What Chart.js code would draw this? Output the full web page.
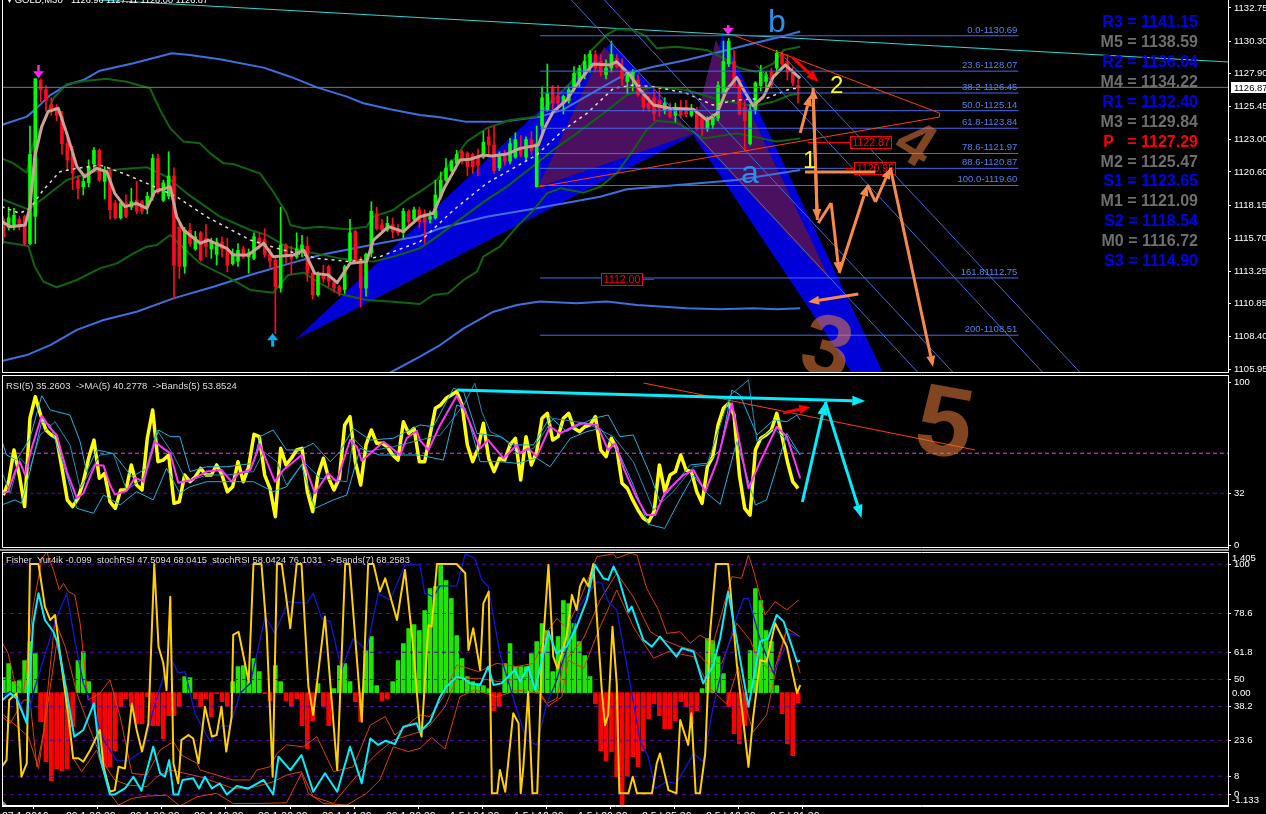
<!DOCTYPE html>
<html>
<head>
<meta charset="utf-8">
<title>GOLD,M30</title>
<script src="https://cdn.jsdelivr.net/npm/chart.js@4"></script>
<style>
  html, body { margin: 0; background: #000; overflow: hidden; }
  canvas { position: absolute; left: 0; }
  #sep { position: absolute; left: 0; width: 1229px; top: 549px; height: 2px; background: #999; }
</style>
</head>
<body>
<canvas id="mainChart" width="1266" height="373" style="top:0"></canvas>
<canvas id="rsiChart" width="1266" height="174" style="top:375px"></canvas>
<div id="sep"></div>
<canvas id="fisherChart" width="1266" height="262" style="top:552px"></canvas>
<script>
// candles, one value per bar (150 bars)
const opens = [
  1117.1,1116.5,1116.5,1117.1,1117.3,1115.3,1117.3,1127.4,1126.7,1125.6,
  1125.4,1124.7,1122.7,1122.0,1120.0,1119.5,1119.8,1121.2,1122.2,1119.9,
  1120.6,1118.3,1117.2,1118.3,1118.0,1118.5,1118.4,1118.0,1118.8,1121.6,
  1118.5,1118.8,1120.3,1116.5,1113.6,1116.3,1114.9,1116.1,1115.7,1114.9,
  1114.5,1115.4,1114.9,1113.8,1114.0,1114.9,1114.3,1114.2,1115.7,1115.6,
  1114.5,1114.1,1112.0,1115.2,1114.5,1114.3,1114.6,1115.1,1113.1,1111.5,
  1113.0,1113.6,1112.4,1112.1,1111.9,1114.0,1116.2,1113.8,1112.0,1114.6,
  1117.5,1116.7,1116.3,1116.7,1116.4,1116.1,1117.7,1117.1,1117.8,1117.5,
  1117.1,1117.2,1118.8,1120.0,1120.7,1121.2,1122.1,1122.0,1121.9,1121.7,
  1121.7,1123.2,1122.6,1120.9,1121.9,1121.4,1121.7,1122.3,1121.7,1123.0,
  1119.5,1124.0,1125.2,1126.9,1126.2,1125.7,1125.9,1126.8,1127.3,1127.8,
  1128.4,1129.3,1128.8,1127.8,1128.3,1129.0,1128.4,1127.3,1127.5,1127.4,
  1126.3,1125.7,1126.1,1125.9,1125.2,1125.3,1124.8,1125.4,1125.4,1124.8,
  1125.2,1124.6,1123.8,1124.1,1124.6,1126.4,1128.6,1128.8,1127.4,1125.4,
  1122.7,1125.2,1127.0,1127.3,1128.0,1128.3,1129.3,1128.8,1128.0,1127.0
];
const highs = [
  1117.3,1118.0,1117.9,1117.3,1117.4,1124.0,1127.5,1127.5,1127.0,1126.1,
  1125.6,1125.1,1123.5,1122.5,1120.3,1120.3,1121.5,1122.4,1122.3,1121.0,
  1120.9,1118.5,1118.5,1118.9,1119.4,1119.9,1118.5,1119.1,1121.9,1121.9,
  1120.0,1122.1,1120.9,1116.8,1116.5,1116.8,1116.2,1116.2,1116.7,1115.7,
  1115.7,1115.8,1115.7,1114.9,1115.3,1115.1,1114.9,1116.1,1116.1,1116.4,
  1114.9,1114.2,1118.0,1115.3,1115.1,1116.1,1115.9,1115.8,1113.3,1113.2,
  1113.7,1113.7,1112.7,1112.2,1113.7,1117.1,1116.3,1114.3,1114.6,1118.4,
  1118.0,1117.1,1117.3,1117.2,1116.7,1117.9,1117.8,1118.0,1118.0,1117.8,
  1117.7,1120.0,1120.6,1121.6,1121.5,1122.2,1122.2,1122.1,1122.0,1122.3,
  1123.6,1123.8,1124.0,1122.1,1122.2,1123.1,1123.5,1123.3,1123.2,1123.6,
  1124.0,1126.9,1128.6,1127.0,1127.0,1126.3,1126.9,1128.4,1128.5,1129.3,
  1129.6,1129.6,1129.3,1128.9,1130.3,1129.3,1129.0,1128.0,1128.2,1127.8,
  1126.7,1126.2,1126.7,1126.9,1126.1,1125.7,1125.7,1125.9,1125.9,1125.6,
  1125.4,1124.8,1124.7,1124.9,1127.3,1130.3,1130.5,1129.6,1127.5,1125.9,
  1125.6,1127.3,1128.5,1128.0,1128.3,1129.6,1129.5,1129.3,1128.4,1127.5
];
const lows = [
  1115.3,1116.3,1116.3,1116.3,1115.2,1115.2,1115.3,1125.8,1125.1,1124.8,
  1124.4,1121.9,1120.7,1119.3,1118.6,1118.9,1119.5,1120.7,1119.9,1118.6,
  1117.1,1117.1,1117.1,1117.2,1117.8,1117.5,1117.5,1117.5,1118.5,1119.0,
  1118.4,1118.6,1111.2,1112.7,1113.1,1115.1,1114.8,1114.0,1114.3,1114.2,
  1113.7,1114.3,1113.2,1113.7,1113.6,1114.2,1113.1,1114.1,1114.9,1114.3,
  1113.5,1108.6,1111.7,1113.8,1113.0,1114.2,1114.3,1112.5,1111.2,1111.4,
  1112.4,1112.1,1111.7,1111.4,1111.6,1113.8,1113.8,1110.6,1111.4,1114.3,
  1116.3,1116.1,1116.2,1115.7,1115.9,1115.7,1116.5,1116.8,1116.5,1115.3,
  1116.8,1117.1,1118.6,1119.9,1120.6,1121.1,1121.2,1120.3,1120.5,1120.3,
  1121.6,1121.7,1120.5,1120.7,1121.1,1121.2,1121.6,1121.7,1121.4,1121.9,
  1119.5,1123.5,1125.1,1125.2,1125.1,1124.9,1125.7,1126.6,1126.9,1127.5,
  1128.0,1128.0,1127.7,1127.5,1128.0,1128.3,1127.0,1126.4,1126.6,1126.2,
  1125.1,1125.1,1124.4,1124.7,1124.9,1124.6,1124.3,1124.6,1124.7,1124.7,
  1123.7,1123.3,1123.6,1123.8,1124.4,1126.1,1128.4,1126.9,1124.8,1122.2,
  1122.6,1124.9,1126.6,1126.4,1126.8,1127.8,1128.3,1127.4,1127.0,1125.7
];
const closes = [
  1115.8,1117.2,1117.4,1116.5,1115.3,1121.9,1127.5,1126.7,1125.9,1125.2,
  1124.8,1122.7,1121.5,1120.5,1119.4,1119.9,1121.0,1122.2,1120.0,1120.7,
  1117.8,1117.2,1118.3,1117.3,1118.4,1117.7,1117.7,1118.8,1121.6,1119.1,
  1119.8,1120.3,1113.7,1113.6,1116.3,1115.3,1115.8,1114.1,1115.1,1115.4,
  1115.4,1114.9,1113.7,1114.6,1114.8,1114.3,1114.6,1115.8,1115.3,1114.5,
  1114.0,1112.1,1115.2,1114.3,1114.2,1114.9,1115.2,1113.1,1111.5,1113.0,
  1112.7,1112.5,1112.0,1111.7,1113.6,1116.1,1114.0,1112.0,1114.5,1117.7,
  1116.4,1116.3,1116.8,1116.2,1116.1,1117.7,1116.9,1117.8,1116.9,1116.9,
  1117.3,1118.9,1120.0,1120.9,1121.4,1121.9,1121.5,1121.0,1121.0,1121.1,
  1122.8,1122.6,1120.7,1121.9,1121.4,1122.7,1123.0,1121.9,1123.0,1122.2,
  1122.7,1126.1,1126.4,1125.7,1125.7,1126.2,1126.7,1127.9,1128.3,1128.8,
  1129.3,1128.3,1128.0,1128.3,1129.3,1128.4,1127.5,1127.8,1128.0,1126.3,
  1125.4,1125.3,1124.9,1125.3,1125.7,1124.7,1125.4,1124.8,1124.9,1125.3,
  1123.8,1123.8,1124.4,1124.7,1127.0,1128.8,1130.3,1127.0,1124.9,1124.4,
  1125.2,1127.2,1128.0,1127.8,1127.0,1129.4,1128.6,1128.0,1127.2,1126.87
];

// price overlays as [bar, price]
const blueUpper = [[-0.3,1124.08],[4.4,1124.7],[5.9,1125.2],[8.8,1126.3],[11.9,1127.04],[15,1127.41],[18.1,1128.1],[24.4,1128.65],[31.6,1129.4],[35,1129.27],[40.6,1128.95],[48.8,1128.33],[53.8,1127.66],[58.8,1126.87],[64.4,1126.18],[67.5,1125.69],[72.5,1125.24],[78.1,1124.82],[81.9,1124.65],[86.6,1124.33],[93.8,1124.33],[100.6,1124.7],[104.9,1125.2],[111.9,1126.8],[116.9,1127.9],[121.9,1128.4],[128.1,1128.9],[134.4,1129.5],[139.4,1130.0],[145.6,1130.6],[149.4,1131.0]];
const blueLower = [[-0.3,1106.6],[4.4,1107.04],[8.8,1107.78],[13.8,1108.9],[18.8,1109.64],[25,1110.25],[31.9,1111.24],[39.4,1112.1],[46.3,1112.97],[53.8,1113.83],[59.4,1114.45],[65.6,1114.94],[70.6,1115.32],[78.1,1115.86],[81.9,1116.43],[90.6,1117.29],[100,1117.91],[111.9,1118.77],[116.9,1119.32],[128.1,1119.69],[137.5,1120.01],[149.4,1120.75]];
const blueLower2 = [[70,1105.2],[72.5,1105.73],[78.1,1106.92],[81.9,1107.78],[86.3,1109.02],[91.9,1110.25],[96.3,1110.75],[100.6,1111.0],[107.5,1110.87],[113.1,1111.0],[118.8,1110.75],[128.1,1110.5],[134.4,1110.43],[140.6,1110.5],[145,1110.43],[149.4,1110.5]];
const greenUpper = [[-0.3,1121.61],[1.9,1121.24],[4.4,1120.55],[5,1121.73],[5.6,1122.72],[7.5,1124.2],[9.4,1126.06],[11.9,1127.12],[15.6,1127.36],[19.4,1127.51],[23.1,1127.29],[27.5,1126.8],[29.4,1125.19],[31.3,1123.83],[33.8,1122.85],[36.9,1122.72],[38.8,1121.98],[41.3,1121.24],[43.1,1121.19],[48.1,1120.5],[50.6,1119.14],[53.1,1117.54],[53.8,1116.67],[56.3,1116.43],[59.4,1116.55],[64.4,1116.35],[68.1,1116.55],[69.4,1117.29],[73.1,1117.78],[75.6,1118.53],[78.1,1119.14],[81.3,1120.01],[84.4,1121.49],[86.9,1122.85],[90.6,1123.83],[95,1124.45],[100,1124.7],[102.5,1125.69],[106.3,1127.17],[110,1129.51],[113.1,1130.75],[115,1131.17],[118.1,1131.12],[120.6,1130.62],[122.5,1129.76],[126.2,1129.88],[131.9,1129.64],[135.6,1128.9],[138.1,1128.28],[141.3,1128.03],[144.4,1128.65],[146.3,1129.64],[149.4,1129.88]];
const greenMid = [[-0.3,1118.6],[4.7,1117.83],[7.5,1118.65],[11.9,1120.01],[16.9,1120.62],[21.9,1120.8],[26.9,1120.95],[30.6,1120.25],[34.4,1119.02],[40.6,1117.29],[46.3,1116.3],[49.4,1115.93],[53.1,1115.07],[56.9,1114.7],[63.1,1114.2],[69.4,1113.96],[73.1,1114.33],[78.1,1114.95],[81.3,1115.81],[86.3,1117.29],[90.6,1118.53],[94.4,1119.51],[100,1121.24],[103.1,1122.23],[107.5,1123.46],[112.5,1124.94],[116.9,1126.3],[121.9,1126.92],[128.1,1126.67],[134.4,1125.93],[140.6,1125.49],[144.4,1125.81],[147.5,1126.3],[149.4,1126.43]];
const greenLower = [[-0.3,1115.44],[4.7,1115.12],[5.9,1113.59],[7.5,1112.48],[10,1112.06],[13.8,1112.6],[18.1,1113.46],[21.3,1113.83],[24.4,1114.57],[26.9,1115.07],[28.8,1115.19],[31.3,1115.93],[33.8,1114.95],[36.9,1113.83],[41.9,1112.85],[46.3,1111.86],[50.6,1111.66],[53.4,1112.97],[56.3,1113.14],[59.4,1112.35],[63.1,1111.56],[68.1,1111.12],[73.1,1110.99],[78.1,1110.82],[80.6,1111.49],[83.4,1111.61],[86.3,1112.6],[88.8,1113.22],[90,1114.33],[93.1,1115.07],[96.3,1116.55],[99.4,1117.78],[101.9,1119.02],[104.4,1119.39],[108.8,1119.07],[111.9,1119.51],[115,1120.5],[118.1,1122.23],[120.6,1123.71],[122.5,1124.4],[126.2,1124.25],[131.3,1123.09],[137.5,1123.46],[140.6,1123.22],[145,1122.85],[149.4,1123.09]];
const smoothLine = [[-0.3,1116.92],[1.3,1116.55],[4.1,1116.67],[5,1118.03],[5.9,1121.73],[7.2,1123.96],[8.4,1125.07],[10.3,1125.32],[11.9,1123.46],[13.8,1121.0],[15.3,1120.25],[17.5,1120.87],[19.4,1120.62],[20.9,1119.02],[22.8,1118.03],[25,1118.28],[26.9,1117.91],[28.4,1119.14],[31.3,1119.51],[32.5,1117.29],[33.8,1116.3],[36.9,1115.32],[38.4,1115.56],[41.9,1114.95],[43.1,1114.45],[45.9,1114.45],[48.8,1115.32],[50.6,1114.33],[54.4,1114.45],[56.3,1114.82],[58.4,1113.09],[60.9,1112.97],[62.6,1112.4],[65,1113.83],[68.1,1113.96],[69.4,1115.56],[72.2,1116.55],[75,1116.18],[78.1,1117.29],[80.6,1117.54],[82.8,1119.51],[85.6,1121.49],[87.5,1121.54],[90,1121.86],[91.6,1121.78],[94.4,1121.93],[96.9,1122.35],[100.3,1122.6],[101.6,1123.96],[103.1,1125.07],[105.6,1125.93],[108.1,1127.41],[110.6,1128.6],[113.8,1128.53],[115,1128.77],[117.5,1127.78],[119.4,1126.67],[121.9,1125.56],[125,1125.32],[129.4,1125.24],[131.9,1124.45],[133.8,1124.94],[135.6,1126.67],[137.5,1127.61],[138.8,1126.67],[140.6,1125.49],[142.5,1126.18],[144.4,1127.66],[146.6,1128.53],[149.4,1127.54]];
const dashedLine = [[-0.3,1118.03],[3.1,1117.54],[5,1117.91],[7.5,1119.27],[10.6,1120.62],[13.8,1120.87],[18.1,1121.12],[22.5,1120.5],[26.9,1119.76],[32.5,1118.77],[38.1,1117.29],[46.3,1115.56],[51.3,1114.95],[58.8,1114.2],[65,1113.96],[70.6,1114.33],[78.1,1115.44],[84.4,1117.78],[90.6,1119.76],[100,1121.86],[105,1123.71],[109.4,1124.94],[114.4,1126.8],[118.1,1127.04],[121.9,1126.92],[128.1,1126.43],[133,1125.56],[137.5,1125.93],[143.1,1126.06],[146.9,1126.67],[149.4,1126.87]];

// trend lines, channels, patterns
const cyanTrend = [[18,1133.34],[229.6,1128.75]];
const channelA = [[146.4,1129.12],[201.8,1105.78]];
const channelB = [[141.2,1128.53],[194.8,1105.78]];
const channelC = [[112.7,1133.34],[178,1105.78]];
const channelD = [[106.5,1133.34],[171.4,1105.78]];
const triangleLine = [[100.3,1119.49],[175.5,1124.67],[175.5,1124.97],[136.8,1130.75]];
const bluePatterns = [
  [[54.7,1108.15],[114.1,1130.23],[129.3,1123.34]],
  [[134.8,1130.75],[129.3,1123.34],[179.4,1093.71]]
];
const purplePatterns = [
  [[100.3,1119.49],[112.6,1129.86],[129.3,1123.41]],
  [[133.6,1130.38],[129.3,1123.49],[155,1112.6]]
];
const fibRange = [100.6, 190.3];
const fibPrices = [1130.69,1128.07,1126.45,1125.14,1123.84,1121.97,1120.87,1119.60,1112.75,1108.51];
const fibLabels = ['0.0-1130.69','23.6-1128.07','38.2-1126.45','50.0-1125.14','61.8-1123.84','78.6-1121.97','88.6-1120.87','100.0-1119.60','161.81112.75','200-1108.51'];
const lastPrice = 1126.87;
const priceTicks = [1132.75,1130.30,1127.90,1125.45,1123.00,1120.60,1118.15,1115.70,1113.25,1110.85,1108.40,1105.95];
const pivotNames = ['R3 = 1141.15','M5 = 1138.59','R2 = 1136.04','M4 = 1134.22','R1 = 1132.40','M3 = 1129.84','P   = 1127.29','M2 = 1125.47','S1 = 1123.65','M1 = 1121.09','S2 = 1118.54','M0 = 1116.72','S3 = 1114.90'];
const boxTexts = ['1112.00','1122.87','1120.95'];
const boxBars = [116,162.7,163.5];
const boxPrices = [1112.70,1122.82,1120.86];
const boxLeaders = [122,150.8,157.8];

// arrows as [bar, price, bar, price]
const orangeArrows = [
  [149.4,1123.49,151.3,1126.3],
  [152.6,1117.04,151.8,1126.82],
  [151.8,1126.82,152.6,1117.04],
  [155.2,1118.3,156.7,1113.12],
  [156.7,1113.12,162,1119.64],
  [163.5,1118.38,166.3,1120.9],
  [166.3,1120.9,174.3,1106.16],
  [160.3,1111.56,150.9,1110.97]
];
const orangeSegments = [
  [152.8,1116.82,155.2,1118.3],
  [162,1119.64,163.5,1118.38],
  [150.3,1120.6,163.5,1120.6]
];
const redArrow = [147.9,1129.12,152.8,1127.27];
const magentaArrows = [[6.6,1128.53,6.6,1127.54],[135.9,1131.49,135.9,1130.75]];
const skyArrow = [50.5,1107.66,50.5,1108.65];

// RSI panel
const rsiValues = [
  30.9,39.1,58.6,43.2,23.8,78.1,91.4,80.1,70.9,67.8,
  65.8,47.3,27.9,23.8,28.9,39.1,53.5,64.7,41.2,44.2,
  26.8,22.7,34,34,49.4,37.1,34,65.8,83.2,51.4,
  52.4,55.5,25.8,26.8,43.2,39.1,42.2,47.3,43.2,43.2,
  49.4,43.2,33,36,51.4,39.1,48.3,68.2,66.8,43.2,
  35,17.6,59.6,49.4,53.5,58.6,59.6,33,20.7,43.2,
  53.5,41.2,34,41.2,74,79.1,51.4,37.1,61.7,70.9,
  62.7,62.7,60.6,55.5,52.4,76,68.8,71.9,51.4,51.4,
  67.8,84.2,86.3,90.4,92.4,94.5,86.3,61.7,51.4,59.6,
  75,53.5,45.3,53.5,52.4,61.7,65.8,40.2,66.8,49.4,
  57.6,78.1,81.1,64.7,66.8,78.1,81.1,71.9,69.9,72.9,
  74,79.1,58.6,54.5,65.8,59.6,38.1,35,27.9,21.7,
  16.6,14.5,20.7,49.4,33,43.2,45.3,55.5,46.3,45.3,
  33,25.8,48.3,54.5,74,84.2,87.3,80.1,43.2,22.7,
  18.6,58.6,65.8,67.8,70.9,81.1,66.8,51.4,39.1,35
];
const rsiMa = [[-0.3,32],[0.9,33],[2.2,45.3],[3.1,51.4],[4.1,43.2],[5.3,59.6],[7.2,79.7],[8.8,71.9],[10,67.8],[11.9,45.3],[13.8,28.9],[15,32],[17.2,49.4],[18.8,49],[20,37.1],[20.9,31.3],[23.1,33.4],[24.7,41.6],[26.3,39.1],[28.4,63.7],[30,59.6],[31.3,56.5],[32.8,38.5],[35.3,40.2],[38.1,45.3],[40.9,46.3],[42.8,39.1],[44.1,44.2],[46.3,46.3],[48.1,62.1],[50.9,39.1],[52.5,46.3],[54.1,50.4],[55.9,55.5],[58.4,32],[60.9,44.2],[62.5,39.1],[65,64.7],[66.3,60.6],[67.2,51.8],[68.8,56.5],[71.3,63.7],[74.4,55.5],[75.6,65.8],[77.5,70.3],[78.1,64.7],[79.7,58.6],[81.9,74],[85,92],[86.6,82.2],[89.4,59.6],[90.9,64.7],[93.8,53.5],[96.3,61.7],[96.9,56.5],[98.4,59.6],[100,54.5],[102.5,72.9],[104.4,68.8],[108.1,75],[111.3,74],[113.4,58.6],[114.7,62.7],[116.3,47.3],[118.8,28.9],[120.6,18.6],[122.2,18.6],[124,32],[127.5,43.2],[129.4,46.3],[131.6,33],[133.8,51.4],[136.6,87.3],[139.7,35],[141.9,51.4],[145,72.9],[146.9,66.8],[149.4,41.2]];
const rsiBandUpper = [[-0.3,64.7],[0.6,55.5],[2.5,52.4],[5,65.8],[7.2,92],[8.8,83.2],[12.5,80.1],[14.4,63.7],[15.6,45.3],[17.5,58.6],[20.6,56.5],[24.1,42.2],[26.9,47.3],[29.1,70.9],[31.3,66.8],[33.1,66.8],[35,45.3],[38.1,48.3],[41.9,48.3],[46.9,50.4],[48.1,66.8],[50.6,70.9],[53.1,58.6],[55.6,58.6],[58.1,62.7],[61.3,51.4],[63.1,57.6],[65.6,71.9],[68.8,64.7],[73.1,65.8],[78.1,74],[80.6,72.9],[84.4,96.5],[86.3,94.5],[88.8,68.8],[93.1,66.8],[95.6,61.7],[99.4,61.7],[102.5,79.1],[105.6,69.9],[110.6,78],[113.4,80.1],[115.6,66.8],[118.1,67.8],[121.3,43.2],[123.1,26.8],[128.8,49.4],[131.9,50.4],[134.4,58.6],[136.6,95.5],[138.1,92.4],[141.3,67.8],[144.4,77],[146.9,76],[148.8,80.1],[149.4,77]];
const rsiBandLower = [[-0.3,24.8],[2.2,27.9],[3.4,25.8],[5,45.3],[7.2,76],[8.8,74],[11.9,43.2],[13.8,22.7],[16.9,19.7],[18.8,30.9],[21.9,24.8],[25,33],[28.1,27.9],[30.6,47.3],[33.1,32],[35,36],[38.1,39.1],[41.9,39.1],[46.9,39.1],[50.6,33],[53.1,36],[55.9,49.4],[58.4,22.7],[61.9,27.9],[64.4,30.9],[66.9,59.6],[70.6,55.5],[74.4,55.5],[78.1,55.5],[82.5,52.4],[85,86.3],[86.6,84.2],[89.4,51.4],[93.1,51.4],[96.3,50.4],[100,53.5],[102.5,48.3],[106.3,65.8],[109.4,69.9],[111.9,71.9],[115.6,55.5],[118.1,37.1],[120.9,12.9],[124,10.4],[126.6,26.8],[129.4,43.2],[131.9,32],[134.4,25.2],[137.5,63.7],[141,24.8],[143.1,27.9],[146.9,68.8],[149.4,55.5]];
const rsiBandMid = [[-0.3,45.3],[1.3,32],[3.1,53.5],[5,47.3],[6.9,67.8],[9.7,76],[12.5,61.7],[14.4,35],[18.1,55.5],[20.6,56.5],[23.1,34],[26.3,41.2],[28.8,70.9],[31.9,55.5],[34.4,39.1],[38.1,43.2],[41.9,43.2],[46.9,45.3],[48.8,57.6],[51.3,51.4],[53.1,37.1],[56.3,51.4],[59.4,41.2],[64.4,39.1],[65.6,65.8],[68.1,57.6],[73.1,60.6],[78.1,64.7],[81.9,67.8],[86.3,86.3],[88.4,99.6],[89.7,82.2],[91.3,69.9],[93.8,65.8],[96.3,56.5],[99.4,59.6],[103.1,78],[109.4,75],[114.4,66.8],[118.1,51.4],[121.9,21.7],[125.6,33],[129.4,48.3],[131.9,49.4],[136.3,92.4],[139.7,101.6],[141.3,63.7],[144.4,71.9],[146.9,64.7],[149.4,55.5]];
const rsiLevels = [56.6, 32];
const rsiTicks = [100, 32, 0];
const rsiThinLine = [[120,99.8],[182.2,58.6]];
const rsiCyanArrows = [[85.1,95.5,161.6,88.7],[149.8,26.6,154.1,88.1],[154.1,88.1,160.9,16.8]];
const rsiRedArrow = [146.2,81.4,151.3,85.1];

// Fisher / stochRSI panel
const fisherHist = [
  .15,.29,.11,.12,.32,.51,.39,-.29,-.69,-.88,
  -.76,-.78,-.76,-.34,.32,.41,.11,-.14,-.48,-.74,
  -.74,-.58,-.14,-.06,-.14,-.31,-.31,-.04,-.33,-.33,
  -.46,-.23,-.23,-.14,.16,.15,-.06,-.14,-.06,-.24,
  -.01,-.09,-.14,.11,.26,.27,.11,.34,.21,-.01,
  -.08,.27,.11,-.08,-.14,-.06,-.33,-.56,-.28,.09,
  -.14,-.33,.04,.27,.29,.11,-.09,-.29,.42,.56,
  .07,-.08,-.06,.11,.32,.49,.64,.68,.62,.82,
  1.04,1.06,1.27,1.12,.94,.57,.34,.16,.11,.09,
  .07,.04,-.18,-.14,.29,.49,.26,.26,.26,.39,
  .51,.69,.62,.21,.56,.92,.89,.69,.51,.37,
  .16,-.11,-.58,-.68,-.59,-.84,-1.13,-.83,-.64,-.74,
  -.58,-.26,-.11,-.23,-.36,-.36,-.28,-.09,-.14,-.31,
  -.18,.04,.54,.52,.36,.19,-.14,-.41,-.51,-.33,
  .42,1.04,.92,.62,.51,.07,-.21,-.51,-.63,-.10
];
const stochYellow = [[-0.3,12.1],[0.6,15],[1.1,41.1],[2.5,44],[3.4,7.8],[4.4,13.6],[5,100.1],[6.6,100.1],[7.8,81.6],[8.8,75.8],[9.7,78],[10.9,56.3],[12.2,33.9],[13.1,15.8],[14.1,15.8],[15,14.3],[16.3,19.4],[18.1,28.1],[18.8,12.1],[20,1.3],[20.9,2],[21.6,12.1],[22.8,11.4],[24.1,39.6],[25,28.1],[26,18.7],[27.2,31],[28.3,100.1],[29.1,64.2],[30,57],[30.6,45.4],[31.3,85.9],[31.9,13.6],[32.8,4.9],[33.4,23.7],[34.7,25.9],[35.6,24.4],[36.6,13.6],[37.8,38.2],[39.1,25.2],[40,25.9],[40.9,38.2],[41.8,18.7],[42.8,33.9],[43.1,69.3],[44.1,70.7],[46,49],[46.9,100.1],[48.4,100.1],[49.4,70],[50.5,7.8],[51.3,100.1],[52.2,100.1],[53.8,72.2],[55,100.1],[55.9,100.1],[57.2,46.9],[58.1,34.6],[60.3,77.3],[62.6,10.7],[64.1,100.1],[64.9,100.1],[67.2,31.7],[68.4,100.1],[69.4,100.1],[70.6,88.1],[71.6,93.9],[73.8,75.8],[75.3,97.5],[76.9,62.8],[78.1,28.1],[78.4,25.2],[79.7,73.6],[80.3,72.9],[81.3,100.1],[85,100.1],[86.6,96.1],[87.2,62.8],[88.1,72.2],[89.4,54.1],[90,83],[91,88.1],[91.6,.6],[92.6,.6],[93.1,10.7],[94.1,1.3],[95.6,35.3],[96.6,31],[97,.6],[97.5,12.1],[98.4,44.7],[99.2,.6],[100.1,.6],[100.9,55.6],[102.2,99.7],[103.1,59.9],[103.9,54.8],[105.6,68.6],[106.6,86.7],[107.5,80.2],[108.1,90.3],[108.8,93.9],[109.7,90.3],[110.6,100.1],[112.2,45.4],[112.8,30.2],[113.4,34.6],[114.2,72.9],[115,48.3],[115.5,.6],[117.2,.6],[118,7.8],[118.8,.6],[121.6,.6],[122.5,13.6],[123.1,17.9],[124.7,2],[126.2,.6],[126.9,32.4],[128.4,21.6],[129,35.3],[129.8,.6],[130.6,.6],[131.6,17.9],[132.5,70],[133.6,100.1],[135.9,100.1],[137.5,57],[139.7,12.1],[140.6,33.9],[141.9,58.4],[143.1,57.7],[144.7,74.4],[146.9,64.2],[148.8,44],[149.4,47.6]];
const stochCyan = [[-0.3,40.8],[1.3,44],[2.5,41.8],[4.4,31],[5.6,74.4],[6.6,87.4],[7.8,75.8],[9.4,70.7],[10.3,65],[11.6,48.3],[13.3,25.2],[15,28.1],[17,39.6],[18.1,16.5],[20,.1],[20.9,.1],[22.8,2.7],[24.4,7.8],[25.9,1.7],[28.1,20.8],[29.4,9.2],[30.3,7.8],[31.1,15],[31.9,.1],[32.8,.1],[33.6,6.4],[35.6,7.1],[36.7,2.7],[37.8,7.8],[39.1,2.7],[40.6,4.9],[41.9,.1],[43.8,3.8],[45.9,2.6],[48.8,6.4],[50.6,.1],[51.6,16.5],[53.8,10.7],[55.9,17.2],[58.1,1.3],[60.3,9.3],[62.6,1.3],[65,20.8],[67.2,4.9],[68.8,24.4],[70.3,21.6],[71.6,23.4],[73.4,22],[75,29.5],[77.5,31],[78.1,27.3],[80,31.7],[81.9,42.5],[83.1,46.9],[85,51.2],[86.3,50.5],[87.5,48.3],[89.4,47.6],[90.9,55.6],[91.9,47.6],[93.4,48.3],[95.9,54.1],[96.9,49],[98.4,55.6],[99.7,45.4],[102.2,70.7],[103.7,61.3],[105.6,64.2],[107.5,72.9],[109.4,84.5],[110.9,99.7],[112.5,93.9],[113.4,93.2],[114.4,99],[115.3,94.6],[117.2,79.4],[117.8,81.6],[120,67.1],[121.6,64.2],[123.1,68.6],[126.2,59.9],[127.2,63.5],[129.4,62.1],[131.2,48.3],[133.1,56.3],[134.4,67.9],[135.9,88.1],[139.7,38.2],[141.9,66.4],[143.4,67.9],[145,78],[146.3,75.1],[148.8,57.7],[149.4,58.2]];
const stochBlue = [[-0.3,42.5],[1.3,44.7],[2.8,42.5],[4.4,31],[5.6,44],[7.5,58.4],[9.7,75.1],[11.9,87.4],[13.4,67.1],[15,48.3],[17.2,35.3],[18.8,23.7],[21.3,14.7],[23.4,14.7],[26.3,19.4],[28.1,36.7],[30,51.2],[31.4,59.2],[32.8,52.7],[34.1,53.4],[35.9,35.3],[38.8,23],[40.9,29.8],[42.5,29.8],[44.4,44],[46.3,48.3],[49.1,77.3],[50.9,70],[53.4,83.8],[56.9,83],[58.1,87.4],[59.7,76.5],[61.3,75.1],[63.4,54.1],[65.6,67.9],[68.1,62.8],[70.3,87.4],[72.5,84.5],[75.3,99.7],[78.1,99.7],[79,87.4],[80.6,85.9],[81.9,90.6],[85,90.6],[86.6,104.5],[88.4,102.6],[89.7,93.2],[90.9,90.3],[93.1,61.3],[95.9,39.6],[98.1,23.7],[100,21.6],[101.9,39.6],[103.4,47.6],[105.6,62.8],[108.1,82.3],[109.7,87.4],[111.3,92.5],[112.2,91.7],[113.4,83.8],[115,80.2],[117.5,48.3],[119.4,23],[120.9,16.5],[122.2,2.7],[124.4,5.6],[126.2,4.9],[129.4,17.9],[131.2,14.3],[133.1,38.2],[135.3,59.9],[137.2,75.1],[138.8,85.2],[139.7,85.2],[141.9,67.1],[144.4,52.7],[146.6,64.2],[147.5,70],[149.4,68.6]];
const stochBandUpper = [[-0.3,66.4],[0.9,61.3],[2.2,48.3],[3.8,44],[5.6,81.6],[7.2,101.9],[8.1,105.5],[9.4,97.5],[10.5,88.8],[11.3,91.7],[12.2,88.1],[13.4,86.7],[14.4,74.4],[15.9,41.1],[18.1,44],[20,49.8],[21.9,33.9],[24.1,9.3],[26.9,8.5],[29.4,19.4],[31.9,23],[33.4,17.2],[36.3,13.6],[36.9,10.7],[43.1,6.4],[46.3,6.4],[47.5,10.7],[50,12.1],[51.3,17.9],[53.1,21.6],[56.3,20.8],[58.8,25.2],[61.9,10],[65.6,12.1],[68.8,30.2],[71.6,33.9],[73.4,25.9],[78.1,34.6],[80,33.9],[82.5,42.5],[85,56.3],[89.1,53.4],[92.5,57],[96.3,55.6],[99.4,57],[102.2,71.5],[103.8,76.5],[105.6,72.2],[108.1,84.5],[111.3,103.3],[114.4,104.5],[115,102.6],[117.5,104.8],[118.8,104],[120.6,89.6],[122.8,80.2],[124.4,70],[126.9,70.7],[128.8,65.7],[130.6,69.3],[133.1,65.7],[136.6,94.6],[138.4,93.9],[139.7,104],[140.6,97.5],[142.8,78],[144.7,83.8],[146.9,80.2],[149.1,84.5]];
const stochBandMid = [[-0.3,33.9],[1.3,31],[3.8,41.1],[5,41.1],[6.3,12.1],[7.5,26.6],[9.7,75.8],[11.6,64.2],[13.8,44],[16.3,28.1],[18.8,13.6],[20.9,6.4],[23.4,4.2],[26.9,3.5],[28.8,7.8],[31.3,10.7],[36.9,7.8],[43.1,2.7],[46.9,3.2],[50.6,5.6],[53.1,8.5],[55.9,10],[58.1,-.9],[61.9,-3.8],[65,4.9],[67.5,11.4],[69.4,16.5],[73.1,23.7],[78.1,27.3],[80,30.2],[82.8,38.2],[85,50.5],[89.1,50.5],[93.1,49],[98.8,51.2],[101.9,39.6],[103.8,41.8],[105,57],[108.8,67.9],[111.9,84.5],[115,96.1],[118.1,85.9],[121.3,70.7],[123.8,67.1],[126.9,64.2],[129.4,62.8],[131.9,57],[134.7,57],[137.5,74.4],[140,67.1],[141.6,58.4],[144.4,52.7],[146.9,72.2],[149.4,68.6]];
const stochBandLower = [[-0.3,35.3],[4.7,25.2],[6.6,11.4],[10,65.7],[11.9,45.4],[13.1,15.8],[14.7,10],[17.5,19.4],[20,.6],[21.6,-4.5],[24.1,-1.6],[26.9,-.6],[30.6,-.2],[33.1,-4.9],[36.3,-.9],[40,.6],[43.1,-3.8],[48.1,-3.8],[53.1,-3.5],[55.9,9.3],[57.2,.6],[60,-3.8],[64.4,-4.5],[68.1,.6],[70.6,6.4],[73.1,20.8],[75.9,18.7],[78.1,20.1],[80.3,24.9],[82.8,19.8],[85.6,42.5],[88.4,45.4],[92.5,42.5],[96.6,45.4],[100.3,44],[102.2,38.5],[104.7,42.5],[105.9,58.4],[108.8,54.8],[111.9,72.9],[115,88.8],[118.1,72.9],[121.9,59.2],[124.7,62.1],[129.4,59.9],[132.5,46.2],[135.6,39.3],[137.8,55.6],[139.7,33.9],[140.6,27.3],[143.1,34.6],[145,55.6],[146.9,71.5],[149.4,52.7]];
const fisherLevels = [100,78.6,61.8,50,38.2,23.6,8,0];
const histTickLabels = ['1.405','0.00','-1.133'];
const histTickValues = [1.405,0,-1.133];

// time axis
const timeBars = [-0.25,11.75,23.75,35.75,47.75,59.75,71.75,83.75,95.75,107.75,119.75,131.75,143.75];
const timeLabels = ['27.1 2016','29.1 02:30','29.1 08:30','29.1 10:30','30.1 02:30','30.1 14:30','30.1 20:30','1.5 | 04:30','1.5 | 12:30','1.5 | 20:30','2.5 | 05:30','2.5 | 12:30','2.5 | 21:30'];

// window edges of the shared bar axis
const xMin = -0.244, xMax = 229.6;

Chart.defaults.font.family = '"Liberation Sans", Arial, sans-serif';
Chart.defaults.font.size = 9.5;
Chart.defaults.color = '#fff';
Chart.defaults.animation = false;

const pts = a => a.map(([x, y]) => ({ x, y }));
const lineDs = (data, color, width, extra) => Object.assign({
  type: 'line', data: pts(data), borderColor: color, borderWidth: width,
  pointRadius: 0, tension: 0, fill: false, borderJoinStyle: 'round'
}, extra);
const levelDs = (v, color, dash) => lineDs([[xMin, v], [xMax, v]], color, 1, { borderDash: dash });
const layered = list => { list.forEach((d, i) => { d.order = -i; }); return list; };

function xScale() {
  return { type: 'linear', display: false, min: xMin, max: xMax, offset: false };
}
// fixed widths and no label padding so the plot area stays exactly where the panel is
function yScale(min, max, ticks, fmt) {
  return {
    type: 'linear', position: 'right', min, max,
    afterFit: s => { s.width = 38; s.paddingTop = 0; s.paddingBottom = 0; },
    afterBuildTicks: s => { s.ticks = ticks.map(v => ({ value: v })); },
    grid: { drawOnChartArea: false, tickLength: 3, color: '#fff' },
    border: { color: '#fff' },
    ticks: { autoSkip: false, padding: 3, color: '#fff', maxRotation: 0, callback: fmt }
  };
}

function toPx(chart, x, y, axis) {
  return [chart.scales.x.getPixelForValue(x), chart.scales[axis || 'y'].getPixelForValue(y)];
}
function clipArea(chart) {
  const a = chart.chartArea, ctx = chart.ctx;
  ctx.save();
  ctx.beginPath();
  ctx.rect(a.left, a.top, a.right - a.left, a.bottom - a.top);
  ctx.clip();
}
function fillPoly(chart, poly, color) {
  const ctx = chart.ctx;
  ctx.fillStyle = color;
  ctx.beginPath();
  poly.forEach(([x, y], i) => {
    const p = toPx(chart, x, y);
    if (i === 0) ctx.moveTo(p[0], p[1]); else ctx.lineTo(p[0], p[1]);
  });
  ctx.closePath();
  ctx.fill();
}
function drawSegment(chart, s, color, w) {
  const ctx = chart.ctx, a = toPx(chart, s[0], s[1]), b = toPx(chart, s[2], s[3]);
  ctx.strokeStyle = color;
  ctx.lineWidth = w;
  ctx.beginPath();
  ctx.moveTo(a[0], a[1]);
  ctx.lineTo(b[0], b[1]);
  ctx.stroke();
}
function drawArrow(chart, s, color, w, len, wid) {
  const ctx = chart.ctx, a = toPx(chart, s[0], s[1]), b = toPx(chart, s[2], s[3]);
  const ang = Math.atan2(b[1] - a[1], b[0] - a[0]);
  const bx = b[0] - Math.cos(ang) * len, by = b[1] - Math.sin(ang) * len;
  ctx.strokeStyle = color;
  ctx.lineWidth = w;
  ctx.beginPath();
  ctx.moveTo(a[0], a[1]);
  ctx.lineTo(bx, by);
  ctx.stroke();
  ctx.fillStyle = color;
  ctx.beginPath();
  ctx.moveTo(b[0], b[1]);
  ctx.lineTo(bx - Math.sin(ang) * wid, by + Math.cos(ang) * wid);
  ctx.lineTo(bx + Math.sin(ang) * wid, by - Math.cos(ang) * wid);
  ctx.closePath();
  ctx.fill();
}
function drawText(ctx, text, x, y, font, color, align) {
  ctx.font = font;
  ctx.fillStyle = color;
  ctx.textAlign = align || 'left';
  ctx.textBaseline = 'alphabetic';
  ctx.fillText(text, x, y);
}
function drawBrown(ctx, text, x, y, size, deg) {
  ctx.save();
  ctx.translate(x, y);
  ctx.rotate(deg * Math.PI / 180);
  ctx.font = 'bold ' + size + 'px "Liberation Sans"';
  ctx.fillStyle = 'rgba(235,125,60,0.55)';
  ctx.textAlign = 'center';
  ctx.textBaseline = 'middle';
  ctx.fillText(text, 0, 0);
  ctx.restore();
}
function drawBorder(chart, withTop) {
  const a = chart.chartArea, ctx = chart.ctx;
  ctx.strokeStyle = '#fff';
  ctx.lineWidth = 1;
  ctx.beginPath();
  if (withTop) {
    ctx.moveTo(a.left + 0.5, a.top + 0.5);
    ctx.lineTo(a.right, a.top + 0.5);
  }
  ctx.moveTo(a.left + 0.5, a.top);
  ctx.lineTo(a.left + 0.5, a.bottom - 0.5);
  ctx.lineTo(a.right, a.bottom - 0.5);
  ctx.stroke();
}

const mainOverlay = {
  id: 'mainOverlay',
  beforeDatasetsDraw(chart) {
    clipArea(chart);
    bluePatterns.forEach(p => fillPoly(chart, p, '#0000d8'));
    purplePatterns.forEach(p => fillPoly(chart, p, '#4b1060'));
    chart.ctx.restore();
  },
  afterDatasetsDraw(chart) {
    const ctx = chart.ctx;
    clipArea(chart);
    fibPrices.forEach((p, i) => {
      const xy = toPx(chart, fibRange[1], p);
      drawText(ctx, fibLabels[i], xy[0] - 1, xy[1] - 3, '9.5px "Liberation Sans"', '#5580ec', 'right');
    });
    boxTexts.forEach((t, i) => {
      const c = toPx(chart, boxBars[i], boxPrices[i]), l = toPx(chart, boxLeaders[i], boxPrices[i]);
      ctx.strokeStyle = '#ff0000';
      ctx.lineWidth = 1;
      ctx.beginPath();
      ctx.moveTo(l[0], Math.round(c[1]) + 0.5);
      ctx.lineTo(c[0], Math.round(c[1]) + 0.5);
      ctx.stroke();
      ctx.fillStyle = '#000';
      ctx.fillRect(Math.round(c[0]) - 21, Math.round(c[1]) - 6, 42, 12);
      ctx.strokeRect(Math.round(c[0]) - 20.5, Math.round(c[1]) - 5.5, 41, 12);
      drawText(ctx, t, c[0], c[1] + 4, '10.5px "Liberation Sans"', '#ff0000', 'center');
    });
    orangeSegments.forEach(s => drawSegment(chart, s, '#f78a4a', 3));
    orangeArrows.forEach(s => drawArrow(chart, s, '#f78a4a', 3, 11, 4.5));
    drawArrow(chart, redArrow, '#ff0000', 3, 12, 5);
    magentaArrows.forEach(s => drawArrow(chart, s, '#ff22ee', 2.5, 7, 5.5));
    drawArrow(chart, skyArrow, '#00b4f0', 3, 7, 5.5);
    drawBrown(ctx, '4', 914, 146, 62, 32);
    drawBrown(ctx, '3', 826, 352, 88, 14);
    drawText(ctx, 'b', 768, 32, '32px "Liberation Sans"', '#2a8fe8');
    drawText(ctx, 'a', 741, 183, '32px "Liberation Sans"', '#2a8fe8');
    drawText(ctx, '1', 803, 168, '24px "Liberation Sans"', '#ffff00');
    drawText(ctx, '2', 830, 93, '24px "Liberation Sans"', '#ffff00');
    pivotNames.forEach((t, i) => {
      const color = t[0] === 'P' ? '#ff0000' : t[0] === 'M' ? '#6e6e6e' : '#0000f0';
      drawText(ctx, t, 1198, 27 + i * 19.93, 'bold 16px "Liberation Sans"', color, 'right');
    });
    drawText(ctx, '▾ GOLD,M30', 7, 3, '9.5px "Liberation Sans"', '#fff');
    drawText(ctx, '1126.96 1127.11 1126.00 1126.87', 71, 3, '9.2px "Liberation Sans"', '#fff');
    ctx.restore();
    drawBorder(chart, false);
  },
  afterDraw(chart) {
    const ctx = chart.ctx, y = chart.scales.y.getPixelForValue(lastPrice);
    ctx.fillStyle = '#fff';
    ctx.fillRect(1231, Math.round(y) - 5, 35, 11);
    drawText(ctx, lastPrice.toFixed(2), 1234, Math.round(y) + 4, '9.5px "Liberation Sans"', '#000');
  }
};

const rsiOverlay = {
  id: 'rsiOverlay',
  afterDatasetsDraw(chart) {
    const ctx = chart.ctx;
    clipArea(chart);
    drawBrown(ctx, '5', 944, 53, 100, 10);
    rsiCyanArrows.forEach(s => drawArrow(chart, s, '#00eeff', 3, 13, 5));
    drawArrow(chart, rsiRedArrow, '#ff0000', 3, 11, 4.5);
    drawText(ctx, 'RSI(5) 35.2603  ->MA(5) 40.2778  ->Bands(5) 53.8524', 6, 14, '9.5px "Liberation Sans"', '#ddd');
    ctx.restore();
    drawBorder(chart, true);
  }
};

const fisherOverlay = {
  id: 'fisherOverlay',
  afterDatasetsDraw(chart) {
    const ctx = chart.ctx, a = chart.chartArea;
    clipArea(chart);
    drawText(ctx, 'Fisher_Yur4ik -0.099  stochRSI 47.5094 68.0415  stochRSI 58.0424 76.1031  ->Bands(7) 68.2583', 6, 11, '9.3px "Liberation Sans"', '#ddd');
    ctx.fillStyle = '#8a9aa8';
    ctx.beginPath();
    ctx.moveTo(a.left, a.bottom - 6);
    ctx.lineTo(a.left + 6, a.bottom);
    ctx.lineTo(a.left, a.bottom);
    ctx.closePath();
    ctx.fill();
    ctx.restore();
    drawBorder(chart, true);
    histTickLabels.forEach((t, i) => {
      const y = chart.scales.yHist.getPixelForValue(histTickValues[i]);
      const shift = i === 0 ? 9 : i === 2 ? -3 : 3;
      drawText(ctx, t, a.right + 4, y + shift, '9.5px "Liberation Sans"', '#fff');
    });
  }
};

const bull = (o, c) => c >= o;
const candleColors = opens.map((o, i) => bull(o, closes[i]) ? '#00ff00' : '#ff0a1e');

new Chart(document.getElementById('mainChart'), {
  type: 'line',
  data: {
    datasets: layered([
      lineDs(cyanTrend, '#2fd8d0', 1),
      lineDs(blueLower2, '#3d6fe0', 2),
      lineDs(blueUpper, '#3d6fe0', 2),
      lineDs(blueLower, '#3d6fe0', 2),
      lineDs(greenUpper, '#0f640f', 2),
      lineDs(greenMid, '#0f640f', 2),
      lineDs(greenLower, '#0f640f', 2),
      { type: 'bar', grouped: false, barThickness: 1, backgroundColor: candleColors,
        data: lows.map((l, i) => ({ x: i, y: [l, highs[i]] })) },
      { type: 'bar', grouped: false, barThickness: 3, backgroundColor: candleColors,
        data: opens.map((o, i) => ({ x: i, y: [o, closes[i]] })) },
      lineDs(dashedLine, '#e8d8d0', 1.5, { borderDash: [3, 4] }),
      lineDs(smoothLine, '#c9a294', 3),
      lineDs([[xMin, lastPrice], [xMax, lastPrice]], '#6a7f8e', 1),
      ...fibPrices.map(p => lineDs([[fibRange[0], p], [fibRange[1], p]], '#3f6cf0', 1)),
      lineDs(channelA, '#3f6cdc', 1),
      lineDs(channelB, '#3f6cdc', 1),
      lineDs(channelC, '#3f6cdc', 1),
      lineDs(channelD, '#3f6cdc', 1),
      lineDs(triangleLine, '#ff4000', 1)
    ])
  },
  options: {
    responsive: false,
    layout: { padding: { left: 2, right: 0, top: 0, bottom: 0 } },
    plugins: { legend: { display: false }, tooltip: { enabled: false } },
    scales: { x: xScale(), y: yScale(1105.71, 1133.34, priceTicks, v => v.toFixed(2)) }
  },
  plugins: [mainOverlay]
});

new Chart(document.getElementById('rsiChart'), {
  type: 'line',
  data: {
    datasets: layered([
      lineDs(rsiThinLine, '#ff4000', 1),
      levelDs(rsiLevels[0], '#ff30ff', [4, 3]),
      levelDs(rsiLevels[1], '#5f00b0', [4, 3]),
      lineDs(rsiValues.map((v, i) => [i, v]), '#ffff00', 3.5),
      lineDs(rsiBandMid, '#1590b8', 1),
      lineDs(rsiBandUpper, '#19b5e5', 1),
      lineDs(rsiBandLower, '#19b5e5', 1),
      lineDs(rsiMa, '#ff33ff', 2)
    ])
  },
  options: {
    responsive: false,
    layout: { padding: { left: 2, right: 0, top: 0, bottom: 1 } },
    plugins: { legend: { display: false }, tooltip: { enabled: false } },
    scales: { x: xScale(), y: yScale(-1.66, 104.7, rsiTicks, v => String(v)) }
  },
  plugins: [rsiOverlay]
});

new Chart(document.getElementById('fisherChart'), {
  type: 'line',
  data: {
    datasets: layered([
      { type: 'bar', grouped: false, barThickness: 4, yAxisID: 'yHist',
        backgroundColor: fisherHist.map(v => v >= 0 ? '#1ee600' : '#ff0000'),
        data: fisherHist.map((v, i) => ({ x: i, y: v })) },
      ...fisherLevels.map(v => levelDs(v, '#5f00b0', [4, 4])),
      lineDs(stochBandUpper, '#e04000', 1),
      lineDs(stochBandMid, '#e04000', 1),
      lineDs(stochBandLower, '#e04000', 1),
      lineDs(stochBlue, '#1414e0', 1.3),
      lineDs(stochYellow, '#ffd000', 2),
      lineDs(stochCyan, '#00f0ff', 2)
    ])
  },
  options: {
    responsive: false,
    layout: { padding: { left: 2, right: 0, top: 0, bottom: 0 } },
    plugins: { legend: { display: false }, tooltip: { enabled: false } },
    scales: {
      x: {
        type: 'linear', min: xMin, max: xMax, offset: false, position: 'bottom',
        afterFit: s => { s.height = 8; s.paddingLeft = 0; s.paddingRight = 0; },
        afterBuildTicks: s => { s.ticks = timeBars.map(v => ({ value: v })); },
        grid: { drawOnChartArea: false, tickLength: 3, color: '#fff' },
        border: { color: '#fff' },
        ticks: { autoSkip: false, maxRotation: 0, minRotation: 0, align: 'start', padding: 2, color: '#fff',
          font: { size: 10.5 }, callback: (v, i) => timeLabels[i] }
      },
      y: yScale(-4.9, 105.3, fisherLevels, v => String(v)),
      yHist: { type: 'linear', display: false, min: -1.133, max: 1.405 }
    }
  },
  plugins: [fisherOverlay]
});
</script>
</body>
</html>
